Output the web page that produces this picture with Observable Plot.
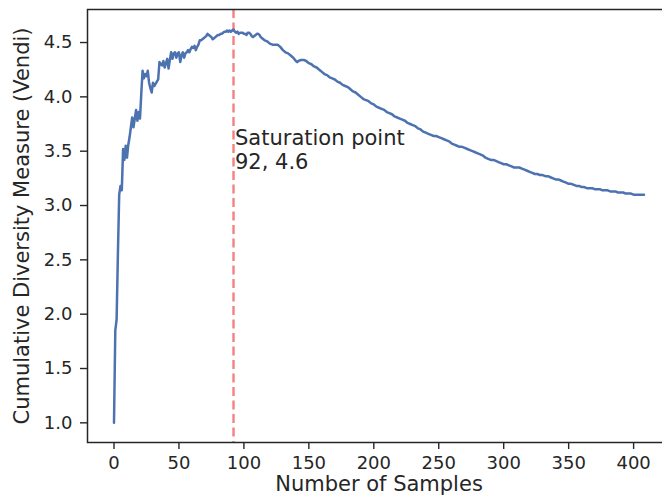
<!DOCTYPE html>
<html>
<head>
<meta charset="utf-8">
<script src="https://cdn.jsdelivr.net/npm/d3@7"></script>
<script src="https://cdn.jsdelivr.net/npm/@observablehq/plot@0.6"></script>
<style>
  html, body { margin: 0; padding: 0; background: #ffffff; }
  #chart { width: 662px; height: 504px; overflow: hidden; }
</style>
</head>
<body>
<div id="chart"></div>
<script>
// ---- data ----
const samples = [
  0,1,2,3,4,5,6,7,8,9,10,11,12,13,14,15,16,17,18,19,20,
  21,22,23,24,25,26,27,28,29,30,31,32,33,34,35,36,37,38,39,40,
  41,42,43,44,45,46,47,48,49,50,51,52,53,54,55,56,57,58,59,60,
  61,62,63,64,65,66,67,68,69,70,71,72,73,74,75,76,77,78,79,80,
  81,82,83,84,85,86,87,88,89,90,91,92,93,94,95,96,97,98,99,100,
  101,102,103,104,105,106,107,108,109,110,111,112,113,114,115,116,118,120,
  122,124,126,128,130,132,134,136,138,140,141,142,144,146,148,150,
  152,154,156,158,160,162,164,166,168,170,172,174,176,178,180,
  182,184,186,188,190,192,194,196,198,200,202,204,206,208,210,
  212,214,216,218,220,222,224,226,228,230,232,234,236,238,240,
  242,244,246,248,250,252,254,256,258,260,262,264,266,268,270,
  272,274,276,278,280,282,284,286,288,290,292,294,296,298,300,
  302,304,306,308,310,312,314,316,318,320,322,324,326,328,330,
  332,334,336,338,340,342,344,346,348,350,352,354,356,358,360,
  362,364,366,368,370,372,374,376,378,380,382,384,386,388,390,
  392,394,396,398,400,402,404,406,408
];
const vendi = [
  1.00,1.85,1.95,2.55,3.10,3.18,3.14,3.52,3.42,3.55,3.44,3.56,3.63,3.72,3.81,3.72,3.80,3.88,3.78,3.86,3.80,
  4.03,4.24,4.17,4.21,4.19,4.24,4.13,4.08,4.04,4.13,4.10,4.12,4.14,4.16,4.32,4.30,4.29,4.33,4.27,4.31,
  4.35,4.26,4.34,4.41,4.35,4.40,4.41,4.36,4.40,4.41,4.32,4.38,4.41,4.36,4.40,4.41,4.43,4.41,4.44,4.46,
  4.45,4.47,4.43,4.46,4.48,4.52,4.52,4.53,4.54,4.55,4.56,4.58,4.57,4.56,4.55,4.53,4.54,4.55,4.56,4.57,
  4.57,4.58,4.58,4.59,4.60,4.60,4.61,4.60,4.61,4.60,4.61,4.62,4.60,4.59,4.60,4.58,4.59,4.59,4.59,4.58,
  4.58,4.57,4.59,4.59,4.58,4.56,4.55,4.56,4.57,4.58,4.58,4.57,4.55,4.54,4.53,4.52,4.51,4.49,
  4.48,4.48,4.48,4.46,4.43,4.41,4.40,4.38,4.36,4.33,4.32,4.33,4.34,4.34,4.33,4.31,
  4.30,4.28,4.27,4.25,4.23,4.21,4.20,4.18,4.17,4.16,4.14,4.13,4.11,4.10,4.09,
  4.07,4.05,4.04,4.02,4.00,3.98,3.97,3.96,3.94,3.93,3.91,3.90,3.89,3.88,3.86,
  3.85,3.84,3.82,3.81,3.80,3.79,3.78,3.76,3.75,3.74,3.73,3.71,3.70,3.68,3.67,
  3.66,3.65,3.64,3.64,3.63,3.62,3.61,3.60,3.59,3.57,3.56,3.55,3.54,3.54,3.53,
  3.52,3.51,3.50,3.49,3.48,3.47,3.46,3.44,3.43,3.42,3.42,3.41,3.40,3.39,3.38,
  3.38,3.37,3.36,3.35,3.35,3.35,3.34,3.33,3.32,3.31,3.30,3.29,3.29,3.28,3.28,
  3.27,3.27,3.26,3.25,3.24,3.24,3.23,3.22,3.21,3.20,3.20,3.19,3.18,3.18,3.17,
  3.17,3.16,3.16,3.16,3.15,3.15,3.15,3.14,3.14,3.14,3.13,3.13,3.13,3.12,3.12,
  3.12,3.11,3.11,3.11,3.10,3.10,3.10,3.10,3.10
];
const xTicks = [0, 50, 100, 150, 200, 250, 300, 350, 400];
const yTicks = [1.0, 1.5, 2.0, 2.5, 3.0, 3.5, 4.0, 4.5];
const xLabel = "Number of Samples";
const yLabel = "Cumulative Diversity Measure (Vendi)";
const saturationSample = [92];
const annotationText = ["Saturation point\n92, 4.6"];
const annotationY = [3.52];

// ---- chart ----
const rows = samples.map((s, i) => ({ s, v: vendi[i] }));
const ann = annotationText.map((t, i) => ({ x: saturationSample[i], y: annotationY[i], t }));
const ink = "#262626";

const chart = Plot.plot({
  width: 662,
  height: 504,
  marginLeft: 87,
  marginRight: -8,
  marginTop: 9,
  marginBottom: 62,
  style: { fontFamily: "'DejaVu Sans', sans-serif", color: ink, background: "#ffffff" },
  x: { domain: [-20.4, 428.4] },
  y: { domain: [0.819, 4.804] },
  marks: [
    Plot.ruleX(saturationSample, { stroke: "#f58080", strokeWidth: 2.4, strokeDasharray: "9,4.5" }),
    Plot.line(rows, { x: "s", y: "v", stroke: "#4c72b0", strokeWidth: 2.5, strokeLinejoin: "round" }),
    Plot.text(ann, { x: "x", y: "y", text: "t", textAnchor: "start", dx: 1.5, fontSize: 21, lineHeight: 1.15, fill: ink }),
    Plot.axisX({ ticks: xTicks, tickFormat: d => String(d), tickSize: 7, tickPadding: 7, fontSize: 18, stroke: ink, strokeWidth: 1.4, label: null }),
    Plot.axisY({ ticks: yTicks, tickFormat: d => d.toFixed(1), tickSize: 7, tickPadding: 8, fontSize: 18, stroke: ink, strokeWidth: 1.4, label: null }),
    Plot.frame({ stroke: ink, strokeWidth: 1.5 }),
    Plot.text([xLabel], { frameAnchor: "bottom", textAnchor: "middle", dy: 48, fontSize: 21, fill: ink }),
    Plot.text([yLabel], { frameAnchor: "left", textAnchor: "middle", dx: -65, rotate: -90, fontSize: 21, fill: ink })
  ]
});
document.getElementById("chart").appendChild(chart);
</script>
</body>
</html>
